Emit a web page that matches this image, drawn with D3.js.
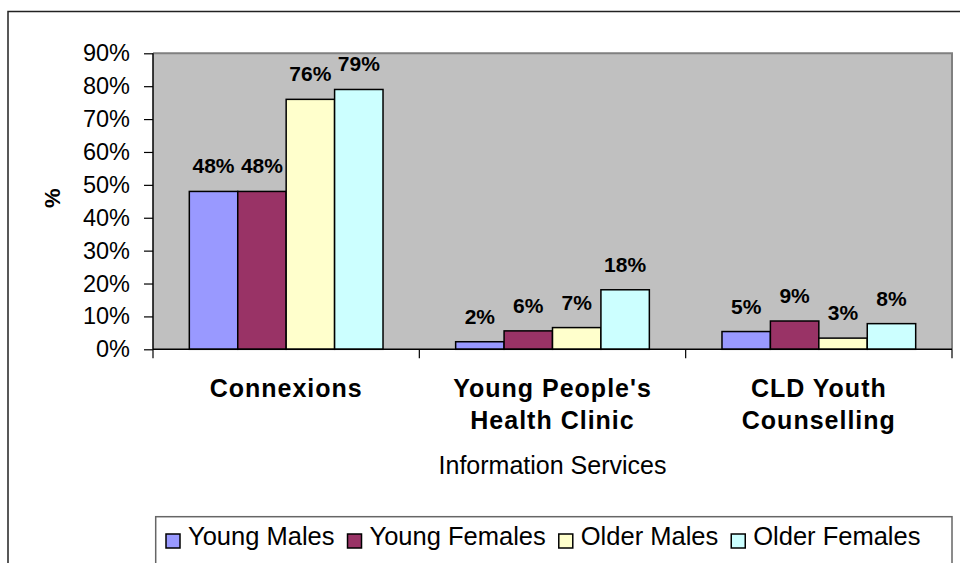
<!DOCTYPE html>
<html>
<head>
<meta charset="utf-8">
<script src="https://cdn.jsdelivr.net/npm/d3@7"></script>
<style>
  html, body { margin: 0; padding: 0; background: #fff; }
  svg { display: block; font-family: Arial, "Liberation Sans", sans-serif; }
</style>
</head>
<body>
<svg id="chart" width="960" height="563"></svg>
<script>
// ---- data ----
const categories = [["Connexions"], ["Young People's", "Health Clinic"], ["CLD Youth", "Counselling"]];
const categoryKeys = ["Connexions", "Young People's Health Clinic", "CLD Youth Counselling"];
const series = ["Young Males", "Young Females", "Older Males", "Older Females"];
const youngMales   = [0.48, 0.023, 0.054];
const youngFemales = [0.48, 0.056, 0.086];
const olderMales   = [0.76, 0.066, 0.034];
const olderFemales = [0.79, 0.181, 0.078];
const yTicks = [0, 0.1, 0.2, 0.3, 0.4, 0.5, 0.6, 0.7, 0.8, 0.9];
const colors = ["#9999FF", "#993366", "#FFFFCC", "#CCFFFF"];
const xTitle = "Information Services";
const yTitle = "%";

const values = [youngMales, youngFemales, olderMales, olderFemales];

const svg = d3.select("#chart");
const plot = { left: 153, right: 952, top: 53.3, bottom: 349.3 };

// outer chart border (extends past the bottom/right of the view)
svg.append("rect")
  .attr("x", 8).attr("y", 11.5)
  .attr("width", 1000).attr("height", 600)
  .attr("fill", "#fff").attr("stroke", "#222").attr("stroke-width", 1.5);

const x0 = d3.scaleBand().domain(categoryKeys).range([plot.left, plot.right]).padding(0);
const x1 = d3.scaleBand().domain(series).range([0, x0.bandwidth()]).paddingInner(0).paddingOuter(0.75);
const y = d3.scaleLinear().domain([0, 0.9]).range([plot.bottom, plot.top]);

// plot area
svg.append("rect")
  .attr("x", plot.left).attr("y", plot.top)
  .attr("width", plot.right - plot.left).attr("height", plot.bottom - plot.top)
  .attr("fill", "#C0C0C0");
svg.append("path")
  .attr("d", `M${plot.left},${plot.top}H${plot.right}V${plot.bottom}`)
  .attr("fill", "none").attr("stroke", "#808080").attr("stroke-width", 2);

// bars
const groups = svg.append("g").selectAll("g")
  .data(categoryKeys).join("g")
  .attr("transform", d => `translate(${x0(d)},0)`);

groups.each(function(cat, ci) {
  const g = d3.select(this);
  series.forEach((s, si) => {
    const v = values[si][ci];
    g.append("rect")
      .attr("x", x1(s)).attr("y", y(v))
      .attr("width", x1.bandwidth()).attr("height", y(0) - y(v))
      .attr("fill", colors[si]).attr("stroke", "#000").attr("stroke-width", 1.5);
    g.append("text")
      .attr("x", x1(s) + x1.bandwidth() / 2)
      .attr("y", y(v) - 18)
      .attr("text-anchor", "middle")
      .attr("font-size", 21).attr("font-weight", "bold")
      .text(d3.format(".0%")(v));
  });
});

// y axis
const yAxis = d3.axisLeft(y).tickValues(yTicks).tickFormat(d3.format(".0%")).tickSize(9).tickPadding(14);
const ya = svg.append("g").attr("transform", `translate(${plot.left},0)`).call(yAxis);
ya.select(".domain").attr("stroke", "#000").attr("stroke-width", 1.5).attr("d", `M0,${plot.top}V${plot.bottom}`);
ya.selectAll(".tick line").attr("stroke", "#000").attr("stroke-width", 1.2);
ya.selectAll(".tick text").attr("font-size", 23.5).attr("fill", "#000")
  .attr("font-family", "Arial, 'Liberation Sans', sans-serif");

// x axis with ticks at category boundaries
const xa = svg.append("g");
xa.append("line").attr("x1", plot.left).attr("x2", plot.right)
  .attr("y1", plot.bottom).attr("y2", plot.bottom)
  .attr("stroke", "#000").attr("stroke-width", 1.5);
const bounds = categoryKeys.map(c => x0(c)).concat([x0(categoryKeys[categoryKeys.length - 1]) + x0.bandwidth()]);
xa.selectAll("line.tk").data(bounds).join("line").attr("class", "tk")
  .attr("x1", d => d).attr("x2", d => d)
  .attr("y1", plot.bottom).attr("y2", plot.bottom + 9)
  .attr("stroke", "#000").attr("stroke-width", 1.2);

// category labels
categories.forEach((lines, ci) => {
  const cx = x0(categoryKeys[ci]) + x0.bandwidth() / 2;
  const t = svg.append("text").attr("text-anchor", "middle")
    .attr("font-size", 25).attr("font-weight", "bold").attr("letter-spacing", 1);
  lines.forEach((ln, li) => {
    t.append("tspan").attr("x", cx).attr("y", 397 + li * 31.5).text(ln);
  });
});

// axis titles
svg.append("text").attr("x", (plot.left + plot.right) / 2).attr("y", 474)
  .attr("text-anchor", "middle").attr("font-size", 25).text(xTitle);
svg.append("text")
  .attr("transform", `translate(60,${(plot.top + plot.bottom) / 2 - 3}) rotate(-90)`)
  .attr("text-anchor", "middle").attr("font-size", 22).attr("font-weight", "bold").text(yTitle);

// legend
svg.append("rect").attr("x", 155.7).attr("y", 516.7)
  .attr("width", 952 - 155.7).attr("height", 100)
  .attr("fill", "#fff").attr("stroke", "#666").attr("stroke-width", 1.5);
let lx = 166;
series.forEach((s, si) => {
  svg.append("rect").attr("x", lx).attr("y", 534).attr("width", 14).attr("height", 14)
    .attr("fill", colors[si]).attr("stroke", "#000").attr("stroke-width", 1.5);
  const t = svg.append("text").attr("x", lx + 22).attr("y", 544.5)
    .attr("font-size", 25.5).text(s);
  lx += 22 + t.node().getComputedTextLength() + 13;
});
</script>
</body>
</html>
